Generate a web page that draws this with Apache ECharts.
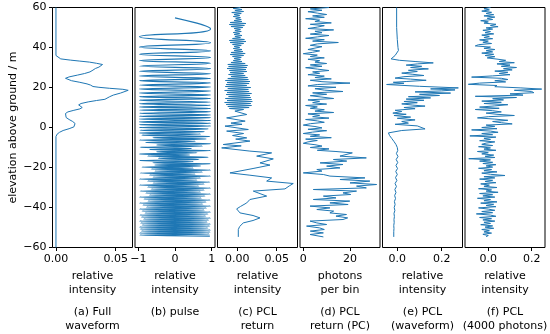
<!DOCTYPE html>
<html><head><meta charset="utf-8">
<script src="https://cdn.jsdelivr.net/npm/echarts@6/dist/echarts.min.js"></script>
<style>html,body{margin:0;padding:0;background:#fff}#c{width:550px;height:334px}</style>
</head><body><div id="c"></div><script>
// ---------- data (value, elevation) ----------
const yAxisLabel = 'elevation above ground / m';
const elevRange = [-60, 60];
const elevInterval = 20;
const axisNames = ['relative\nintensity','relative\nintensity','relative\nintensity','photons\nper bin','relative\nintensity','relative\nintensity'];
const captions = ['(a) Full\nwaveform','(b) pulse','(c) PCL\nreturn','(d) PCL\nreturn (PC)','(e) PCL\n(waveform)','(f) PCL\n(4000 photons)'];
const xTickValues = [[0,0.05],[-1,0,1],[0,0.05],[0,20],[0,0.2],[0,0.2]];
const xTickLabels = [['0.00','0.05'],['\u22121','0','1'],['0.00','0.05'],['0','20'],['0.0','0.2'],['0.0','0.2']];

const fullWaveform = [[0,60],[0,36],[0.001,35],[0.004,34.3],[0.012,33.7],[0.020,33.2],[0.028,32.7],[0.034,32.1],[0.039,31.5],[0.0395,31],[0.036,30.2],[0.033,29.5],[0.031,28.7],[0.0285,27.8],[0.024,27],[0.018,26.2],[0.011,25.3],[0.008,24.6],[0.0085,24],[0.013,23.4],[0.020,22.6],[0.026,21.8],[0.029,21.2],[0.031,20.5],[0.036,20.1],[0.045,19.6],[0.056,19.1],[0.0605,18.6],[0.059,18],[0.054,17.2],[0.048,16.2],[0.045,15.4],[0.044,14.8],[0.041,14.1],[0.034,13.5],[0.027,12.8],[0.021,12],[0.019,11.3],[0.020,10.6],[0.022,10],[0.020,9.3],[0.015,8.6],[0.010,7.8],[0.008,7],[0.0075,6],[0.0085,5],[0.011,4],[0.014,3],[0.016,2],[0.0165,1.2],[0.015,0.3],[0.011,-0.6],[0.006,-1.5],[0.003,-2.4],[0.001,-3.3],[0,-4.5],[0,-60]];

const pulse = [[0,54.8],[0.97,49.3],[-0.97,45.4],[0.97,42.4],[-0.97,40.2],[0.97,38.3],[-0.97,36.6],[0.97,35.0],[-0.97,33.5],[0.97,32.1],[-0.97,30.7],[0.97,29.4],[-0.97,28.1],[0.97,26.9],[-0.97,25.7],[0.97,24.5],[-0.97,23.4],[0.97,22.3],[-0.97,21.2],[0.97,20.2],[-0.97,19.2],[0.97,18.2],[-0.97,17.2],[0.97,16.3],[-0.97,15.4],[0.97,14.5],[-0.97,13.6],[0.97,12.7],[-0.97,11.9],[0.97,11.1],[-0.97,10.3],[0.97,9.5],[-0.97,8.7],[0.97,7.9],[-0.97,7.1],[0.97,6.3],[-0.97,5.6],[0.97,4.9],[-0.97,4.2],[0.97,3.5],[-0.97,2.8],[0.97,2.1],[-0.97,1.4],[0.97,0.7],[-0.97,0.0],
[0.9,-0.7],[-0.95,-1.4],[0.8,-2.1],[-0.97,-2.7],[0.7,-3.3],[-0.9,-3.9],[0.95,-4.5],[-0.6,-5.1],[0.85,-5.7],[-0.97,-6.3],[0.55,-6.9],[-0.8,-7.5],[0.97,-8.1],[-0.5,-8.7],[0.75,-9.3],[-0.95,-9.9],[0.45,-10.45],[-0.7,-11.0],[0.97,-11.55],[-0.5,-12.1],[0.6,-12.65],[-0.97,-13.2],[0.4,-13.75],[-0.75,-14.3],[0.9,-14.85],[-0.45,-15.4],[0.65,-15.95],[-0.97,-16.5],[0.5,-17.05],[-0.6,-17.6],[0.97,-18.15],[-0.55,-18.7],[0.7,-19.25],[-0.9,-19.8],
[0.5,-20.3],[-0.65,-20.8],[0.97,-21.3],[-0.55,-21.8],[0.75,-22.3],[-0.95,-22.8],[0.55,-23.3],[-0.7,-23.8],[0.97,-24.3],[-0.6,-24.8],[0.7,-25.3],[-0.97,-25.8],[0.6,-26.3],[-0.75,-26.8],[0.95,-27.3],[-0.6,-27.8],[0.8,-28.3],[-0.97,-28.8],[0.65,-29.3],[-0.75,-29.8],[0.97,-30.3],[-0.65,-30.8],[0.8,-31.3],[-0.95,-31.8],[0.7,-32.3],[-0.8,-32.8],[0.97,-33.3],[-0.7,-33.8],[0.82,-34.3],[-0.97,-34.8],[0.72,-35.3],[-0.85,-35.8],[0.96,-36.3],[-0.74,-36.8],[0.85,-37.3],[-0.97,-37.8],[0.76,-38.3],[-0.88,-38.8],[0.97,-39.3],[-0.78,-39.8],[0.86,-40.3],[-0.97,-40.8],[0.8,-41.3],[-0.9,-41.8],[0.97,-42.3],[-0.82,-42.8],[0.9,-43.3],[-0.96,-43.8],[0.84,-44.3],[-0.92,-44.8],[0.97,-45.3],[-0.86,-45.8],[0.92,-46.3],[-0.97,-46.8],[0.88,-47.3],[-0.94,-47.8],[0.97,-48.3],[-0.9,-48.8],[0.95,-49.3],[-0.97,-49.8],[0.9,-50.3],[-0.95,-50.8],[0.97,-51.3],[-0.92,-51.8],[0.96,-52.3],[-0.97,-52.8],[0.94,-53.3],[-0.96,-53.8],[0.95,-54.3]];

const pclReturn = [[0.004,60],[-0.005,59.5],[0.006,59],[-0.003,58.5],[0.008,58],[-0.007,57.5],[0.005,57],[-0.004,56.5],[0.003,56],[-0.005,55.5],[0.004,55],[-0.002,54.5],[0.005,54],[-0.004,53.5],[0.006,53],[-0.009,52.5],[0.011,52],[-0.010,51.5],[0.009,51],[-0.008,50.5],[0.007,50],[-0.004,49.5],[0.004,49],[-0.003,48.5],[0.005,48],[-0.005,47.5],[0.003,47],[-0.004,46.5],[0.006,46],[-0.003,45.5],[0.004,45],[-0.006,44.5],[0.009,44],[-0.010,43.5],[0.011,43],[-0.009,42.5],[0.008,42],[-0.006,41.5],[0.005,41],[-0.004,40.5],[0.003,40],[-0.005,39.5],[0.006,39],[-0.004,38.5],[0.007,38],[-0.008,37.5],[0.010,37],[-0.009,36.5],[0.008,36],[-0.006,35.5],[0.005,35],[-0.004,34.5],[0.004,34],[-0.005,33.5],[0.006,33],[-0.008,32.5],[0.010,32],[-0.012,31.5],[0.013,31],[-0.011,30.5],[0.012,30],[-0.013,29.5],[0.011,29],[-0.010,28.5],[0.012,28],[-0.009,27.5],[0.008,27],[-0.011,26.5],[0.010,26],[-0.008,25.5],[0.013,25],[-0.012,24.5],[0.014,24],[-0.015,23.5],[0.016,23],[-0.013,22.5],[0.015,22],[-0.014,21.5],[0.012,21],[-0.015,20.5],[0.017,20],[-0.012,19.5],[0.014,19],[-0.016,18.5],[0.015,18],[-0.013,17.5],[0.018,17],[-0.014,16.5],[0.016,16],[-0.011,15.5],[0.017,15],[-0.015,14.5],[0.018,14],[-0.013,13.5],[0.019,13],[-0.016,12.5],[0.017,12],[-0.014,11.5],[0.018,11],[-0.012,10.5],[0.015,10],[-0.010,9.5],[0.008,9],
[-0.003,8.2],[0.012,6.5],[-0.0135,4.8],[0.010,3.2],[-0.008,2.2],[0.006,1.6],[-0.0156,0.7],[0.014,-1],[-0.0135,-1.8],[0.008,-3],[-0.006,-4],[0.012,-5.2],[-0.002,-5.8],[0.016,-6.8],[-0.0178,-8.5],[0.005,-9.2],[-0.0198,-10.2],[0.016,-11.8],[0.0436,-12.7],[0.0246,-14.3],[0.0457,-15.7],[0.0288,-17.7],[0.0415,-18.8],[0.02,-20.5],[-0.0093,-22.7],[0.015,-23.8],[0.0436,-25.2],[0.0373,-26.8],[0.071,-28],[0.066,-29.2],[0.0605,-30.7],[0.0203,-31.8],[0.0373,-34.3],[0.016,-36],[0.012,-37.7],[0.004,-39.5],[-0.0008,-40.7],[0.0034,-42.7],[0.02,-44],[0.0288,-45.2],[0.02,-46.5],[0.0076,-47.7],[0.003,-49.5],[0.0013,-51],[0.0013,-54.7]];

const pclReturnPC = [[11,60],[3,59.3],[8,58.6],[2,57.9],[6,57.2],[10,56.5],[4,55.8],[9,55.1],[1,54.4],[7,53.7],[5,53],[12,52.3],[3,51.6],[9,50.9],[6,50.2],[2,49.5],[13,48.8],[5,48.1],[8,47.4],[3,46.7],[11,46],[6,45.3],[1,44.6],[9,43.9],[4,43.2],[15,42.5],[6,41.8],[3,41.1],[8,40.4],[5,39.7],[2,39],[7,38.3],[4,37.6],[0,36.9],[6,36.2],[3,35.5],[9,34.8],[2,34.1],[7,33.4],[5,32.7],[10,32],[3,31.3],[8,30.6],[1,29.9],[6,29.2],[11,28.5],[4,27.8],[7,27.1],[2,26.4],[9,25.7],[5,25],[12,24.3],[3,23.6],[8,22.9],[20,22.2],[6,21.5],[2,20.8],[14,20.1],[5,19.4],[9,18.7],[17,18],[4,17.3],[10,16.6],[3,15.9],[8,15.2],[13,14.5],[2,13.8],[7,13.1],[4,12.4],[10,11.7],[1,11],[6,10.3],[3,9.6],[9,8.9],[5,8.2],[13,7.5],[2,6.8],[7,6.1],[4,5.4],[11,4.7],[1,4],[6,3.3],[9,2.6],[3,1.9],[0,1.2],[5,0.5],[8,-0.2],[2,-0.9],[10,-1.6],[4,-2.3],[0,-3],[7,-3.7],[3,-4.4],[12,-5.1],[1,-5.8],[6,-6.5],[2,-7.2],[0,-7.9],[5,-8.6],[8,-9.3],[3,-10],[11,-10.7],[6,-11.4],[14,-12],
[21,-12.7],[15.7,-14.3],[27,-15.2],[12.9,-16],[18.6,-16.8],[7.2,-17.7],[17,-18.5],[10,-19.3],[15.7,-20.2],[5.8,-21],[8,-21.8],[0,-22.7],[8.6,-23.5],[11.4,-24.3],[26.4,-25.2],[15.7,-26],[28.5,-26.8],[20,-27.7],[31.4,-28.5],[22.8,-29.3],[27,-30.2],[4.3,-31],[22.8,-31.8],[17,-32.7],[20.3,-33.5],[8.6,-34.3],[14,-35.2],[4.3,-36],[19.9,-36.8],[11.4,-37.7],[19.2,-38.5],[2.9,-39.3],[11.4,-40.2],[5.8,-41],[13,-41.8],[11.4,-42.7],[18.5,-43.5],[14,-44.3],[19,-45.2],[17,-46],[2.9,-46.8],[5.8,-47.7],[10,-48.5],[1.4,-49.3],[7,-50.2],[9,-51],[3,-51.8],[8.6,-52.7],[2.9,-53.5],[8.6,-54.7]];

const pclWaveform = [[-0.003,60],[-0.003,50],[0,44],[0.003,40],[0.005,38.5],[0.004,37.5],[-0.01,36],[-0.028,34.3],[0.01,33.6],[0.08,33],[0.162,32.3],[0.09,31.8],[0.04,31.2],[0.11,30.6],[0.06,30],[0.14,29.3],[0.05,28.6],[0.09,28],[0.02,27.2],[0.07,26.6],[0.12,26],[0.03,25.4],[-0.01,24.7],[0.06,24.2],[0.13,23.6],[0.04,23],[-0.018,22.6],[0.03,22.1],[-0.048,21.5],[0.1,20.6],[0.275,19.8],[0.15,19.3],[0.26,18.8],[0.2,18.3],[0.08,17.8],[0.24,17.2],[0.1,16.6],[0.19,16],[0.05,15.4],[0.15,14.8],[0.04,14.2],[0.12,13.6],[0.03,13],[0.09,12.4],[0.02,11.8],[0.07,11.2],[0.125,10.7],[0.03,10],[0.08,9.4],[-0.01,8.6],[0.02,8],[-0.02,7.2],[0.04,6.6],[-0.015,6],[0.06,5.2],[0.0,4.6],[0.08,3.8],[0.02,3],[0.05,2.2],[-0.01,1.6],[0.09,0.8],[0.125,-0.7],[0.02,-1.5],[-0.04,-2.7],[-0.035,-4],[-0.025,-5.5],[-0.015,-7],[-0.006,-8.5],[0,-10],[0.002,-11.5],[-0.004,-13],[0.003,-14.5],[-0.005,-16],[0.002,-17.5],[-0.006,-19],[0.001,-20.5],[-0.007,-22],[0.0,-23.5],[-0.008,-25],[-0.002,-26.5],[-0.01,-28],[-0.004,-29.5],[-0.011,-31],[-0.006,-32.5],[-0.012,-34],[-0.008,-35.5],[-0.013,-37],[-0.01,-38.5],[-0.014,-40],[-0.011,-41.5],[-0.015,-43],[-0.013,-44.5],[-0.015,-46],[-0.014,-47.5],[-0.016,-49],[-0.015,-50.5],[-0.016,-52],[-0.016,-54.7]];

const pcl4000 = [[0.01,60],[-0.02,59.4],[0.005,58.8],[-0.03,58.2],[0.015,57.6],[-0.01,57],[0.025,56.4],[-0.02,55.8],[0.03,55.2],[-0.005,54.6],[0.02,54],[-0.035,53.4],[0.0,52.8],[-0.02,52.2],[0.035,51.6],[0.01,51],[0.045,50.4],[-0.01,49.8],[0.02,49.2],[-0.025,48.6],[0.01,48],[-0.015,47.4],[0.025,46.8],[-0.03,46.2],[0.005,45.6],[-0.02,45],[0.02,44.4],[-0.04,43.8],[0.0,43.2],[-0.025,42.6],[0.015,42],[-0.045,41.4],[-0.06,40.8],[0.01,40.2],[-0.02,39.6],[0.03,39],[-0.01,38.4],[0.02,37.8],[-0.03,37.2],[0.025,36.6],[-0.015,36],[0.03,35.4],[-0.005,34.8],[0.04,34.2],
[0.08,33.6],[0.05,33],[0.12,32.4],[0.04,31.8],[0.1,31.2],[0.06,30.6],[0.13,30],[0.07,29.4],[0.11,28.8],[0.03,28.2],[0.09,27.6],[0.05,27],[0.1,26.4],[0.02,25.8],[-0.077,25.2],[0.06,24.6],[0.09,24],[0.03,23.4],[0.08,22.8],[-0.04,22.2],[-0.092,21.6],[0.04,21],[0.03,20.4],[0.15,19.8],[0.246,19.2],[0.12,18.6],[0.2,18],[0.21,17.4],[0.1,16.8],[0.16,16.2],[-0.06,15.6],[0.13,15],[0.02,14.4],[0.07,13.8],[-0.03,13.2],[0.06,12.6],[-0.02,12],[0.09,11.4],[0.03,10.8],[-0.04,10.2],[0.05,9.6],[-0.06,9],[0.02,8.4],[0.06,7.8],[-0.01,7.2],[0.04,6.6],[0.12,6],[0.0,5.4],[-0.05,4.8],[0.03,4.2],[0.09,3.6],[0.02,3],[0.06,2.4],[0.11,1.8],[-0.01,1.2],[0.03,0.6],[-0.03,0],[0.04,-0.6],[-0.077,-1.2],[0.01,-1.8],[0.045,-2.4],[-0.03,-3],[0.02,-3.6],[-0.085,-4.2],[0.035,-4.8],[-0.02,-5.4],[0.01,-6],[-0.04,-6.6],[0.03,-7.2],[-0.01,-7.8],
[-0.03,-8.4],[0.02,-9],[-0.045,-9.6],[0.01,-10.2],[-0.02,-10.8],[0.035,-11.4],[-0.05,-12],[0.0,-12.6],[-0.03,-13.2],[0.025,-13.8],[-0.015,-14.4],[0.03,-15],[-0.09,-15.6],[0.01,-16.2],[-0.04,-16.8],[0.02,-17.4],[-0.025,-18],[0.035,-18.6],[-0.01,-19.2],[0.02,-19.8],[-0.045,-20.4],[0.015,-21],[-0.02,-21.6],[0.04,-22.2],[-0.03,-22.8],[0.01,-23.4],[0.077,-24],[-0.02,-24.6],[0.03,-25.2],[-0.04,-25.8],[0.02,-26.4],[-0.015,-27],[0.035,-27.6],[-0.035,-28.2],[0.005,-28.8],[-0.02,-29.4],[0.04,-30],[-0.045,-30.6],[0.015,-31.2],[-0.01,-31.8],[0.045,-32.4],[-0.04,-33],[0.02,-33.6],[-0.025,-34.2],[0.03,-34.8],[-0.05,-35.4],[0.01,-36],[-0.02,-36.6],[0.04,-37.2],[-0.035,-37.8],[0.025,-38.4],[-0.01,-39],[0.035,-39.6],[-0.045,-40.2],[0.0,-40.8],[0.03,-41.4],[-0.03,-42],[0.02,-42.6],[-0.055,-43.2],[0.01,-43.8],[0.035,-44.4],[-0.04,-45],[0.015,-45.6],[-0.025,-46.2],[0.03,-46.8],[-0.02,-47.4],[0.01,-48],[-0.035,-48.6],[0.02,-49.2],[-0.015,-49.8],[0.025,-50.4],[-0.03,-51],[0.005,-51.6],[-0.02,-52.2],[0.015,-52.8],[-0.025,-53.4],[0.0,-54],[-0.01,-54.6]];

const panels = [fullWaveform, pulse, pclReturn, pclReturnPC, pclWaveform, pcl4000];

// ---------- layout ----------
const FONT = 'DejaVu Sans';
const LINE = '#1f77b4';
const gridLeft = [52.5, 135, 217.5, 300, 382.5, 465];
const gridTop = 7.5, gridW = 80, gridH = 240;
const xMin = [-0.0029, -1.09, -0.0251, -1.41, -0.0667, -0.1074];
const xMax = [0.0641, 1.09, 0.0764, 32.85, 0.2937, 0.2613];

const grid = [], xAxis = [], yAxis = [], series = [], graphic = [];
panels.forEach((d, i) => {
  grid.push({left: gridLeft[i], top: gridTop, width: gridW, height: gridH, show: true,
    borderColor: '#000', borderWidth: 1, backgroundColor: 'transparent', containLabel: false});
  const tv = xTickValues[i], tl = xTickLabels[i];
  xAxis.push({type: 'value', gridIndex: i, min: xMin[i], max: xMax[i], position: 'bottom',
    name: axisNames[i], nameLocation: 'middle', nameGap: 22,
    nameTextStyle: {fontSize: 11, lineHeight: 14, color: '#000', fontFamily: FONT},
    axisLine: {show: false, onZero: false}, splitLine: {show: false},
    axisTick: {show: true, length: 3.5, customValues: tv, lineStyle: {color: '#000', width: 1}},
    axisLabel: {customValues: tv, margin: 6, fontSize: 11, color: '#000', fontFamily: FONT,
      formatter: v => { let k = 0; tv.forEach((t, j) => { if (Math.abs(t - v) < Math.abs(tv[k] - v)) k = j; }); return tl[k]; }}
  });
  const first = i === 0;
  yAxis.push({type: 'value', gridIndex: i, min: elevRange[0], max: elevRange[1], interval: elevInterval, position: 'left',
    name: first ? yAxisLabel : '', nameLocation: 'middle', nameGap: 34,
    nameTextStyle: {fontSize: 11, color: '#000', fontFamily: FONT},
    axisLine: {show: false, onZero: false}, splitLine: {show: false},
    axisTick: {show: first, length: 3.5, lineStyle: {color: '#000', width: 1}},
    axisLabel: {show: first, margin: 6, fontSize: 11, color: '#000', fontFamily: FONT,
      formatter: v => v < 0 ? '\u2212' + (-v) : String(v)}
  });
  series.push({type: 'line', xAxisIndex: i, yAxisIndex: i, data: d, showSymbol: false, symbol: 'none',
    smooth: i === 1 ? 0.5 : false, silent: true, animation: false,
    lineStyle: {color: LINE, width: i === 1 ? 1.2 : 1}});
  graphic.push({type: 'text', x: gridLeft[i] + gridW / 2, y: 305, silent: true,
    style: {text: captions[i], fontSize: 11, fontFamily: FONT, fill: '#000', align: 'center', verticalAlign: 'top', lineHeight: 14}});
});

const chart = echarts.init(document.getElementById('c'), null, {renderer: 'canvas'});
chart.setOption({animation: false, backgroundColor: '#fff', grid, xAxis, yAxis, series, graphic});
</script></body></html>
